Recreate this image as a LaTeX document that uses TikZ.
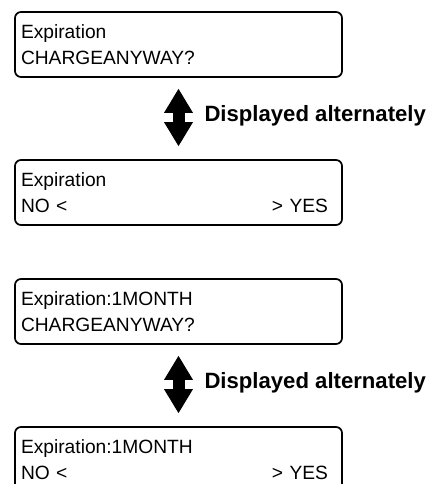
\documentclass[tikz,border=0pt]{standalone}
\usepackage{fontspec}
\setmainfont{Liberation Sans}
\usetikzlibrary{arrows.meta,positioning}

\begin{document}
\begin{tikzpicture}[
  x=0.75pt, y=-0.75pt,
  lcd/.style={rectangle, rounded corners=4.5pt, draw=black, line width=1.3pt,
              minimum width=245.25pt, minimum height=48.75pt, inner xsep=4.5pt,
              text width=236.25pt, align=left, font=\fontsize{14.4}{19.5}\selectfont},
  alt/.style={{Triangle[length=18pt, width=21.75pt, line width=0pt]}-{Triangle[length=18pt, width=21.75pt, line width=0pt]},
              line width=9pt, shorten <=8.25pt, shorten >=9.75pt},
  altlbl/.style={anchor=base west, inner sep=0, xshift=15pt, yshift=-2.4pt,
                 font=\fontsize{16.6}{19}\selectfont\bfseries},
]
\clip (0,0) rectangle (438,484);

\node[lcd] (exp)     at (178.5,44.5)  {Expiration\\CHARGEANYWAY?};
\node[lcd] (expyn)   at (178.5,192.5) {Expiration\\NO <\hfill> YES\kern6pt};
\node[lcd] (exp1m)   at (178.5,311.5) {Expiration:1MONTH\\CHARGEANYWAY?};
\node[lcd] (exp1myn) at (178.5,459.5) {Expiration:1MONTH\\NO <\hfill> YES\kern6pt};

\draw[alt] (exp) -- (expyn) node[altlbl, midway] {Displayed alternately};
\draw[alt] (exp1m) -- (exp1myn) node[altlbl, midway] {Displayed alternately};

\end{tikzpicture}
\end{document}
